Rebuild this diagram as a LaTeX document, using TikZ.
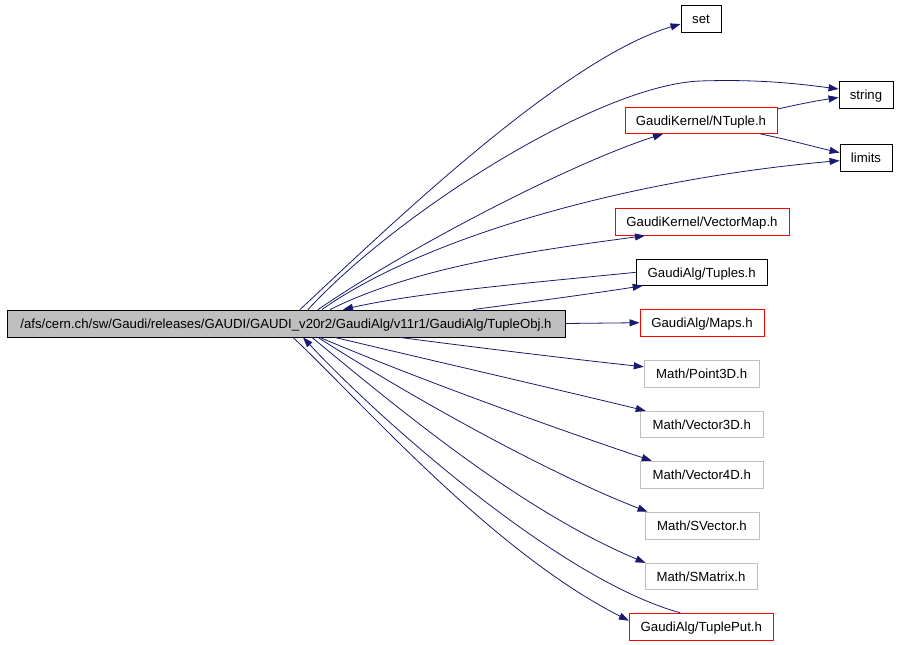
\documentclass[tikz,border=0pt]{standalone}
\usepackage{fontspec}
\setmainfont{Liberation Sans}
\usetikzlibrary{arrows.meta}
\definecolor{edgeblue}{HTML}{191970}
\definecolor{boxgray}{HTML}{BFBFBF}
\tikzset{
  box/.style={draw=black, line width=0.9pt, inner sep=0pt, font=\fontsize{13.2}{15}\selectfont, text=black, text height=9.5pt, text depth=0pt},
  redbox/.style={box, draw=red},
  graybox/.style={box, draw=boxgray},
  dep/.style={draw=edgeblue, line width=0.8pt, -{Triangle[length=10pt,width=7pt]}},
}
\begin{document}
\begin{tikzpicture}[x=1pt,y=-1pt]
\useasboundingbox (0,0) rectangle (898,645);
% nodes
\node[box, fill=boxgray, minimum width=558pt, minimum height=27pt] (main) at (286,323.5) {/afs/cern.ch/sw/Gaudi/releases/GAUDI/GAUDI\_v20r2/GaudiAlg/v11r1/GaudiAlg/TupleObj.h};
\node[box, minimum width=40pt, minimum height=27pt] (set) at (701,18.5) {set};
\node[box, minimum width=54pt, minimum height=27pt] (string) at (866,94.5) {string};
\node[redbox, minimum width=152pt, minimum height=26pt] (ntuple) at (701,120.5) {GaudiKernel/NTuple.h};
\node[box, minimum width=52pt, minimum height=27pt] (limits) at (866,157.6) {limits};
\node[redbox, minimum width=174pt, minimum height=27pt] (vmap) at (702,221.7) {GaudiKernel/VectorMap.h};
\node[box, minimum width=131pt, minimum height=26pt] (tuples) at (701.7,272.3) {GaudiAlg/Tuples.h};
\node[redbox, minimum width=124pt, minimum height=27pt] (maps) at (702,322.7) {GaudiAlg/Maps.h};
\node[graybox, minimum width=115pt, minimum height=27pt] (p3d) at (701.7,373.8) {Math/Point3D.h};
\node[graybox, minimum width=123pt, minimum height=26pt] (v3d) at (701.7,424.3) {Math/Vector3D.h};
\node[graybox, minimum width=123pt, minimum height=27pt] (v4d) at (701.7,474.7) {Math/Vector4D.h};
\node[graybox, minimum width=114pt, minimum height=27pt] (svec) at (702,525.7) {Math/SVector.h};
\node[graybox, minimum width=112pt, minimum height=26pt] (smat) at (701,576.3) {Math/SMatrix.h};
\node[redbox, minimum width=144pt, minimum height=27pt] (tput) at (701.3,626.7) {GaudiAlg/TuplePut.h};
% edges from top of main
\draw[dep] ([xshift=14pt]main.north) .. controls (380,235) and (560,60) .. ([yshift=-5.5pt]set.west);
\draw[dep] ([xshift=22pt]main.north) .. controls (400,210) and (600,85) .. (700,81) .. controls (760,79) and (800,84) .. ([yshift=5.5pt]string.west);
\draw[dep] ([xshift=32pt]main.north) .. controls (420,240) and (580,160) .. ([xshift=-38pt]ntuple.south);
\draw[dep] ([xshift=36pt]main.north) .. controls (420,240) and (620,180) .. ([yshift=-3pt]limits.west);
\draw[dep] ([xshift=44pt]main.north) .. controls (420,265) and (540,250) .. ([xshift=-57pt]vmap.south);
\draw[dep] (tuples.west) .. controls (540,282) and (420,292) .. ([xshift=57pt]main.north);
\draw[dep] ([xshift=187pt]main.north) .. controls (530,302) and (590,294) .. ([xshift=-59pt]tuples.south);
\draw[dep] (main.east) -- (maps.west);
% NTuple deps
\draw[dep] ([yshift=-2pt]ntuple.north east) .. controls (800,104) and (815,101) .. ([yshift=-3pt]string.west);
\draw[dep] ([xshift=-17pt]ntuple.south east) .. controls (790,140) and (815,147) .. ([yshift=5pt]limits.west);
% edges from bottom of main
\draw[dep] ([xshift=114pt]main.south) .. controls (480,348) and (580,360) .. ([yshift=7pt]p3d.west);
\draw[dep] ([xshift=49pt]main.south) .. controls (430,360) and (560,390) .. ([xshift=6pt]v3d.north west);
\draw[dep] ([xshift=34pt]main.south) .. controls (420,380) and (560,430) .. ([xshift=12pt]v4d.north west);
\draw[dep] ([xshift=32pt]main.south) .. controls (400,390) and (540,470) .. ([xshift=3pt]svec.north west);
\draw[dep] ([xshift=26pt]main.south) .. controls (400,410) and (520,510) .. ([xshift=1pt]smat.north west);
\draw[dep] ([xshift=-21pt]tput.north) .. controls (560,580) and (380,420) .. ([xshift=17pt]main.south);
\draw[dep] ([xshift=7pt]main.south) .. controls (360,400) and (490,550) .. ([yshift=6pt]tput.west);
\end{tikzpicture}
\end{document}
